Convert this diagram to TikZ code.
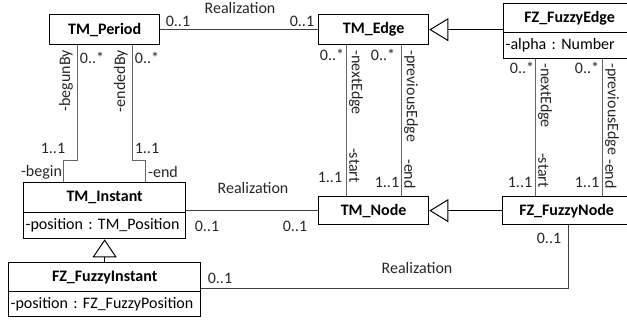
\documentclass[tikz,border=0pt]{standalone}
\usepackage{fontspec}
\setmainfont{Carlito}
\usetikzlibrary{arrows.meta}
\frenchspacing
\begin{document}
\frenchspacing
\begin{tikzpicture}[x=1pt,y=-1pt,
  font=\fontsize{16}{19}\selectfont,
  cls/.style={draw=black, line width=1.3pt, font=\fontsize{16}{19}\selectfont\bfseries, inner sep=0pt, anchor=north west},
  attr/.style={draw=black, line width=1.3pt, inner xsep=2pt, inner ysep=0pt, anchor=north west, align=left},
  rel/.style={draw=black!75, line width=1pt},
  asc/.style={draw=black!60, line width=1pt},
  inh/.style={draw=black, line width=1pt, -{Triangle[open, length=19pt, width=23pt, line width=1pt]}},
  lbl/.style={inner sep=0pt, text=black!85},
  rl/.style={inner sep=0pt, text=black!85, rotate=-90},
  rr/.style={inner sep=0pt, text=black!85, rotate=90}]
\useasboundingbox (0,0) rectangle (627,320);
% classes
\node[cls, minimum width=110pt, minimum height=30pt] (period) at (49,14) {TM\_Period};
\node[cls, minimum width=110pt, minimum height=30pt] (edge) at (318,14) {TM\_Edge};
\node[cls, minimum width=132pt, minimum height=29pt] (fedge) at (503,3) {FZ\_FuzzyEdge};
\node[attr, minimum height=26pt, text width=128pt] (fedgea) at (503,32) {-alpha : Number};
\node[cls, minimum width=110pt, minimum height=28pt] (node) at (318,196) {TM\_Node};
\node[cls, minimum width=128pt, minimum height=28pt] (fnode) at (502,196) {FZ\_FuzzyNode};
\node[cls, minimum width=162pt, minimum height=30pt] (inst) at (23,182) {TM\_Instant};
\node[attr, minimum height=26pt, text width=158pt] (insta) at (23,212) {-position : TM\_Position};
\node[cls, minimum width=192pt, minimum height=29pt] (finst) at (8,262) {FZ\_FuzzyInstant};
\node[attr, minimum height=25pt, text width=188pt] (finsta) at (8,291) {-position : FZ\_FuzzyPosition};
% generalizations
\draw[inh] (fedge.west |- edge.east) -- (edge.east);
\draw[inh] (fnode.west) -- (node.east);
\draw[draw=black, line width=1pt, -{Triangle[open, length=18pt, width=24pt, line width=1pt]}] (finst.north) -- (insta.south);
% realizations
\draw[rel] (period.east) -- (edge.west);
\draw[rel] (node.west) -- (node.west -| inst.east);
\coordinate (rc) at (568,289);
\draw[rel] (fnode.south -| rc) -- (rc) -- (rc -| finst.east);
\node[lbl] (r1) at (240,8) {Realization};
\node[lbl] (r2) at (253,188) {Realization};
\node[lbl] (r3) at (417,268) {Realization};
\node[lbl] (m1) at (178,21) {0..1};
\node[lbl] (m2) at (302,21) {0..1};
\node[lbl] (m3) at (207,226) {0..1};
\node[lbl] (m4) at (295,226) {0..1};
\node[lbl] (m5) at (220,278) {0..1};
\node[lbl] (m6) at (549,238) {0..1};
% period - instant associations
\coordinate (b1) at (77,161); \coordinate (b2) at (63,161);
\coordinate (e1) at (132,161); \coordinate (e2) at (145,161);
\draw[asc] (period.south -| b1) -- (b1) -- (b2) -- (inst.north -| b2);
\draw[asc] (period.south -| e1) -- (e1) -- (e2) -- (inst.north -| e2);
\node[lbl] (p1) at (92,58) {0..*};
\node[lbl] (p2) at (147,58) {0..*};
\node[lbl] (p3) at (53,148) {1..1};
\node[lbl] (p4) at (147,148) {1..1};
\node[lbl] (p5) at (41.5,172) {-begin};
\node[lbl] (p6) at (163,172) {-end};
\node[rr, anchor=south east] (p7) at (73,50) {-begunBy};
\node[rr, anchor=south east] (p8) at (128,50) {-endedBy};
% edge - node associations
\coordinate (n1) at (346,100); \coordinate (n2) at (401,100);
\draw[asc] (edge.south -| n1) -- (node.north -| n1);
\draw[asc] (edge.south -| n2) -- (node.north -| n2);
\node[lbl] (q1) at (332,55) {0..*};
\node[lbl] (q2) at (383,55) {0..*};
\node[lbl] (q3) at (330,177) {1..1};
\node[lbl] (q4) at (387,182) {1..1};
\node[rl, anchor=south west] (q5) at (349,50) {-nextEdge};
\node[rl, anchor=south west] (q6) at (404,50) {-previousEdge};
\node[rl, anchor=south east] (q7) at (349,183) {-start};
\node[rl, anchor=south east] (q8) at (404,189) {-end};
% fuzzy edge - fuzzy node associations
\coordinate (f1) at (535,100); \coordinate (f2) at (602,100);
\draw[asc] (fedgea.south -| f1) -- (fnode.north -| f1);
\draw[asc] (fedgea.south -| f2) -- (fnode.north -| f2);
\node[lbl] (s1) at (522,68) {0..*};
\node[lbl] (s2) at (587,68) {0..*};
\node[lbl] (s3) at (520,182) {1..1};
\node[lbl] (s4) at (587,182) {1..1};
\node[rl, anchor=south west] (s5) at (538,63) {-nextEdge};
\node[rl, anchor=south west] (s6) at (605,63) {-previousEdge};
\node[rl, anchor=south east] (s7) at (538,188) {-start};
\node[rl, anchor=south east] (s8) at (605,189) {-end};
\end{tikzpicture}
\end{document}
